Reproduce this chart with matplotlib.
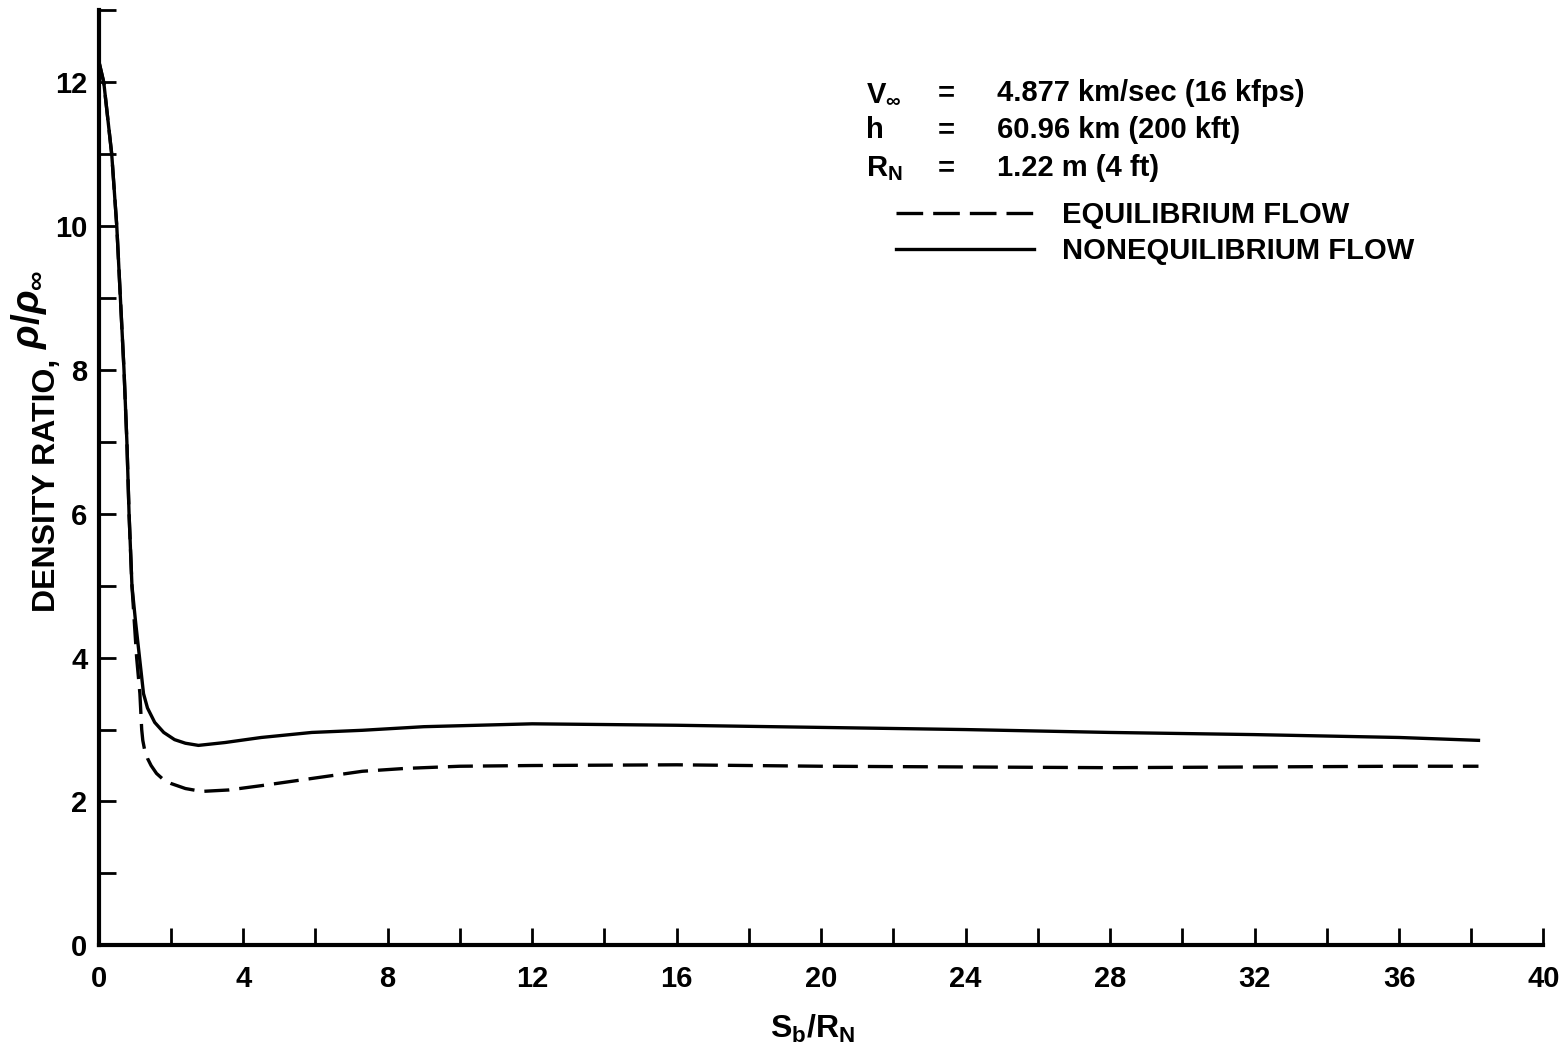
import matplotlib
matplotlib.use('Agg')
import matplotlib.pyplot as plt
from matplotlib.lines import Line2D
from matplotlib.ticker import MultipleLocator

plt.rcParams['font.family'] = ['Liberation Sans', 'DejaVu Sans']
plt.rcParams['mathtext.fontset'] = 'custom'
plt.rcParams['mathtext.rm'] = 'Liberation Sans:bold'
plt.rcParams['mathtext.it'] = 'Liberation Sans:italic:bold'
plt.rcParams['mathtext.bf'] = 'Liberation Sans:bold'

# Nonequilibrium flow (solid)
noneq_x = [0.0, 0.14, 0.36, 0.5, 0.6, 0.7, 0.78, 0.84, 0.92, 1.02, 1.13, 1.24,
           1.35, 1.55, 1.8, 2.1, 2.4, 2.76, 3.5, 4.5, 5.9, 7.3, 9.0, 12.0,
           16.0, 20.0, 24.0, 28.0, 32.0, 36.0, 38.2]
noneq_y = [12.3, 12.0, 11.0, 10.0, 9.0, 8.0, 7.0, 6.0, 5.0, 4.5, 4.0, 3.5,
           3.3, 3.1, 2.96, 2.86, 2.81, 2.78, 2.82, 2.89, 2.96, 2.99, 3.04, 3.08,
           3.06, 3.03, 3.0, 2.96, 2.93, 2.89, 2.85]

# Equilibrium flow (dashed)
eq_x = [0.0, 0.14, 0.36, 0.5, 0.6, 0.7, 0.78, 0.84, 0.92, 1.05, 1.14, 1.19,
        1.22, 1.27, 1.35, 1.45, 1.6, 1.8, 2.0, 2.4, 2.85, 3.6, 4.5, 5.9, 7.3,
        8.5, 10.0, 12.0, 16.0, 20.0, 24.0, 28.0, 32.0, 36.0, 38.2]
eq_y = [12.3, 12.0, 11.0, 10.0, 9.0, 8.0, 7.0, 6.0, 5.0, 4.0, 3.5, 3.0,
        2.85, 2.72, 2.6, 2.5, 2.39, 2.3, 2.25, 2.18, 2.14, 2.16, 2.22, 2.32, 2.42,
        2.46, 2.49, 2.5, 2.51, 2.49, 2.48, 2.47, 2.48, 2.49, 2.49]

conditions = [r'$\mathregular{V_{\infty}}$', 'h', r'$\mathregular{R_N}$']
cond_values = ['4.877 km/sec (16 kfps)', '60.96 km (200 kft)', '1.22 m (4 ft)']
series_labels = ['EQUILIBRIUM FLOW', 'NONEQUILIBRIUM FLOW']

fig = plt.figure(figsize=(15.67, 10.48), dpi=100)
ax = fig.add_axes([0.063, 0.098, 0.922, 0.892])

ax.plot(eq_x, eq_y, color='black', lw=2.4, dashes=(7.5, 3), label=series_labels[0])
ax.plot(noneq_x, noneq_y, color='black', lw=2.4, label=series_labels[1])

ax.set_xlim(0, 40)
ax.set_ylim(0, 13)
ax.xaxis.set_major_locator(MultipleLocator(4))
ax.xaxis.set_minor_locator(MultipleLocator(2))
ax.yaxis.set_major_locator(MultipleLocator(2))
ax.yaxis.set_minor_locator(MultipleLocator(1))

for side in ['top', 'right']:
    ax.spines[side].set_visible(False)
for side in ['left', 'bottom']:
    ax.spines[side].set_linewidth(3)

ax.tick_params(which='both', direction='in', width=2, length=12, labelsize=21)
ax.tick_params(axis='x', pad=14)
ax.tick_params(axis='y', pad=8)
for lab in ax.get_xticklabels() + ax.get_yticklabels():
    lab.set_fontweight('bold')

ax.set_xlabel(r'$\mathregular{S_b/R_N}$', fontsize=23, fontweight='bold')
ax.xaxis.set_label_coords(0.494, -0.072)

# y axis label: text plus a larger italic density ratio
ax.text(-0.030, 0.492, 'DENSITY RATIO,', transform=ax.transAxes, rotation=90,
        rotation_mode='anchor', ha='center', va='baseline', fontsize=23, fontweight='bold')
ax.text(-0.041, 0.680, r'$\rho/\rho_{\infty}$', transform=ax.transAxes, rotation=90,
        rotation_mode='anchor', ha='center', va='baseline', fontsize=28)

# flight conditions block
rows_y = [0.912, 0.872, 0.831]
for name, val, yy in zip(conditions, cond_values, rows_y):
    ax.text(0.531, yy, name, transform=ax.transAxes, fontsize=21, fontweight='bold', va='center')
    ax.text(0.581, yy, '=', transform=ax.transAxes, fontsize=21, fontweight='bold', va='center')
    ax.text(0.622, yy, val, transform=ax.transAxes, fontsize=21, fontweight='bold', va='center')

handles = [Line2D([], [], color='black', lw=2.4, dashes=(8, 3)),
           Line2D([], [], color='black', lw=2.4)]
leg = ax.legend(handles, series_labels, loc='upper left',
                bbox_to_anchor=(0.552, 0.796), frameon=False, fontsize=21,
                handlelength=4.73, handletextpad=0.96, labelspacing=0.26,
                borderpad=0, borderaxespad=0)
for t in leg.get_texts():
    t.set_fontweight('bold')

fig.savefig('out.png', dpi=100)
